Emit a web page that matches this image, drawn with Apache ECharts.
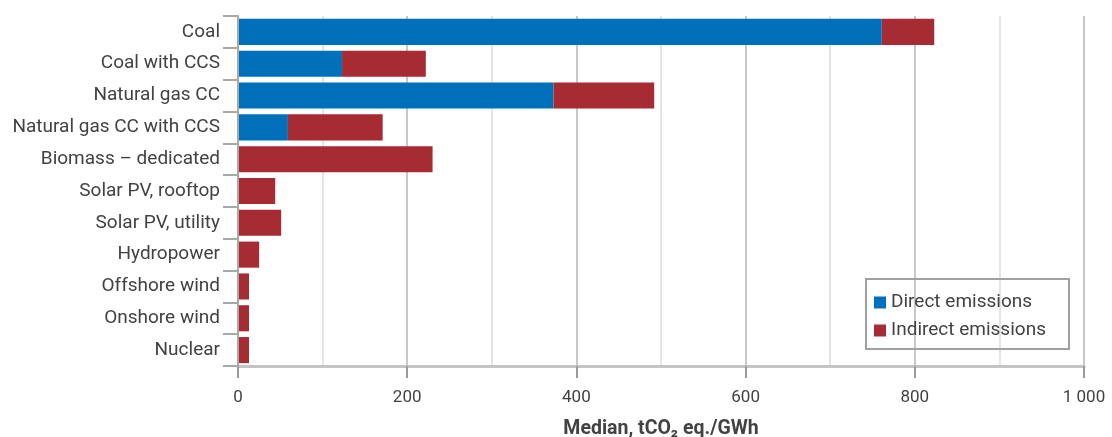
<!DOCTYPE html>
<html>
<head>
<meta charset="utf-8">
<script src="https://cdn.jsdelivr.net/npm/echarts@6/dist/echarts.min.js"></script>
<style>
  html, body { margin: 0; padding: 0; background: #fff; }
  #chart { width: 1112px; height: 437px; }
</style>
</head>
<body>
<div id="chart"></div>
<script>
// Life-cycle emissions by generation technology (median, tCO2 eq./GWh)
const categories = [
  'Coal', 'Coal with CCS', 'Natural gas CC', 'Natural gas CC with CCS',
  'Biomass – dedicated', 'Solar PV, rooftop', 'Solar PV, utility',
  'Hydropower', 'Offshore wind', 'Onshore wind', 'Nuclear'
];
const directEmissions   = [761, 123, 373, 59, 0, 0, 0, 0, 0, 0, 0];
const indirectEmissions = [62, 99, 119, 112, 230, 44, 51, 25, 13, 13, 13];
const seriesNames = ['Direct emissions', 'Indirect emissions'];
const xTicks = [0, 200, 400, 600, 800, 1000];

const FONT = 'Roboto';
const TEXT = '#424242';

const chart = echarts.init(document.getElementById('chart'), null, { renderer: 'canvas' });

const fmtTick = v => xTicks.includes(v) ? String(v).replace(/\B(?=(\d{3})+(?!\d))/g, ' ') : '';

chart.setOption({
  animation: false,
  textStyle: { fontFamily: FONT },
  grid: { left: 238, right: 28, top: 16, bottom: 71, containLabel: false, outerBoundsMode: 'none' },
  xAxis: [
    {
      type: 'value', min: 0, max: 1000, interval: 200,
      axisLine: { show: true, lineStyle: { color: '#c4c4c4', width: 3 } },
      axisTick: { show: true, length: 12, lineStyle: { color: '#9a9a9a', width: 2 } },
      axisLabel: { formatter: fmtTick, color: TEXT, fontSize: 17, margin: 23, fontFamily: FONT },
      splitLine: { show: true, lineStyle: { color: '#c8c8c8', width: 2 } },
      name: 'Median, tCO\u2082 eq./GWh',
      nameLocation: 'middle', nameGap: 53,
      nameTextStyle: { color: TEXT, fontSize: 19.5, fontWeight: 'bold', fontFamily: FONT },
      z: 2
    },
    {
      // minor gridlines every 100
      type: 'value', min: 0, max: 1000, interval: 100, position: 'bottom',
      axisLine: { show: false }, axisTick: { show: false }, axisLabel: { show: false },
      splitLine: { show: true, lineStyle: { color: ['rgba(0,0,0,0)', '#e4e4e4'], width: 2 } }
    }
  ],
  yAxis: {
    type: 'category', data: categories, inverse: true,
    axisLine: { show: true, lineStyle: { color: '#a8a8a8', width: 2 } },
    axisTick: { show: true, length: 15, lineStyle: { color: '#a8a8a8', width: 2 } },
    axisLabel: { color: TEXT, fontSize: 19, margin: 18, fontFamily: FONT },
    z: 3
  },
  legend: {
    orient: 'vertical', left: 874, top: 293,
    itemWidth: 12, itemHeight: 12, itemGap: 9, padding: 0,
    icon: 'rect',
    textStyle: { color: TEXT, fontSize: 19, lineHeight: 14, fontFamily: FONT, padding: [0, 0, 0, 0] },
    data: seriesNames
  },
  graphic: [{
    type: 'rect', left: 865, top: 278, z: 100,
    shape: { width: 203, height: 70 },
    style: { fill: 'rgba(0,0,0,0)', stroke: '#a0a0a0', lineWidth: 2 }
  }, {
    type: 'rect', left: 866, top: 279, z: -1,
    shape: { width: 201, height: 68 },
    style: { fill: '#fff' }
  }],
  series: [
    {
      name: seriesNames[0], type: 'bar', stack: 'total', data: directEmissions,
      itemStyle: { color: '#0070ba' }, barCategoryGap: '18%'
    },
    {
      name: seriesNames[1], type: 'bar', stack: 'total', data: indirectEmissions,
      itemStyle: { color: '#a72b33' }, barCategoryGap: '18%'
    }
  ]
});
</script>
</body>
</html>
